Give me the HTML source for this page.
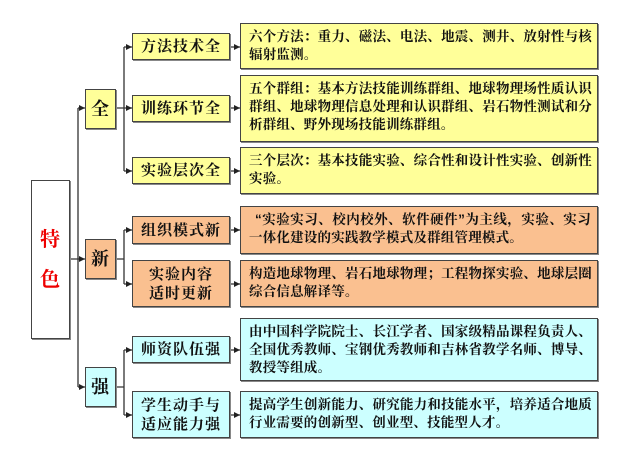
<!DOCTYPE html>
<html><head><meta charset="utf-8"><style>
body{margin:0;width:623px;height:463px;background:#fff;position:relative;overflow:hidden;font-family:"Liberation Sans","Noto Serif CJK SC","Noto Sans CJK SC",serif;font-weight:bold;color:#111}
.b{position:absolute;box-sizing:border-box;border:1px solid #444;box-shadow:1px 1px 0 #888}
.y{background:#ffff99}.o{background:#fac090}.c{background:#ccffff}
.m{display:flex;align-items:center;justify-content:center;text-align:center;font-size:15px;line-height:19px;letter-spacing:1px;white-space:nowrap}
.t{font-size:13.5px;line-height:18px;letter-spacing:0.2px;padding:4px 0 0 8px;white-space:nowrap}
.f{display:block;width:343px;text-align:justify;text-align-last:justify}
svg{position:absolute;left:0;top:0}
</style></head><body>
<svg width="623" height="463">
<g stroke="#333" stroke-width="1.3" fill="none">
<path d="M70 259H78M78 108V387M78 108H85M78 259H85M78 387H85"/>
<path d="M116 108H124M124 47V171M124 47H132M124 108H132M124 171H132"/>
<path d="M116 259H124M124 230V284M124 230H132M124 284H132"/>
<path d="M116 387H124M124 350V415M124 350H132M124 415H132"/>
<path d="M230 47H240M230 108H240M230 171H240M230 230H240M230 284H240M230 350H240M230 415H240"/>
</g>
<g fill="#222">
<path d="M85 108l-6-3v6zM85 259l-6-3v6zM85 387l-6-3v6z"/>
<path d="M132 47l-6-3v6zM132 108l-6-3v6zM132 171l-6-3v6zM132 230l-6-3v6zM132 284l-6-3v6zM132 350l-6-3v6zM132 415l-6-3v6z"/>
<path d="M240 47l-6-3v6zM240 108l-6-3v6zM240 171l-6-3v6zM240 230l-6-3v6zM240 284l-6-3v6zM240 350l-6-3v6zM240 415l-6-3v6z"/>
</g>
</svg>
<div class="b m" style="left:31px;top:180px;width:39px;height:159px;background:#fff;color:#e00;font-size:20px;line-height:40px;flex-direction:column">特<br>色</div>
<div class="b m y" style="left:85px;top:89px;width:31px;height:40px;font-size:18px">全</div>
<div class="b m o" style="left:85px;top:239px;width:31px;height:40px;font-size:18px">新</div>
<div class="b m c" style="left:85px;top:367px;width:31px;height:40px;font-size:18px">强</div>
<div class="b m y" style="left:132px;top:33px;width:98px;height:27px">方法技术全</div>
<div class="b m y" style="left:132px;top:95px;width:98px;height:27px">训练环节全</div>
<div class="b m y" style="left:132px;top:157px;width:98px;height:27px">实验层次全</div>
<div class="b m o" style="left:132px;top:216px;width:98px;height:28px">组织模式新</div>
<div class="b m o" style="left:132px;top:260px;width:98px;height:47px">实验内容<br>适时更新</div>
<div class="b m c" style="left:132px;top:336px;width:98px;height:27px">师资队伍强</div>
<div class="b m c" style="left:132px;top:391px;width:98px;height:47px">学生动手与<br>适应能力强</div>
<div class="b t y" style="left:240px;top:23px;width:358px;height:46px"><span class="f">六个方法：重力、磁法、电法、地震、测井、放射性与核</span>辐射监测。</div>
<div class="b t y" style="left:240px;top:75px;width:358px;height:67px"><span class="f">五个群组：基本方法技能训练群组、地球物理场性质认识</span><span class="f">群组、地球物理信息处理和认识群组、岩石物性测试和分</span>析群组、野外现场技能训练群组。</div>
<div class="b t y" style="left:240px;top:147px;width:358px;height:47px"><span class="f">三个层次：基本技能实验、综合性和设计性实验、创新性</span>实验。</div>
<div class="b t o" style="left:240px;top:206px;width:358px;height:48px"><span class="f" style="width:336px;padding-left:6px">“实验实习、校内校外、软件硬件”为主线，实验、实习</span>一体化建设的实践教学模式及群组管理模式。</div>
<div class="b t o" style="left:240px;top:260px;width:358px;height:47px"><span class="f">构造地球物理、岩石地球物理；工程物探实验、地球层圈</span>综合信息解译等。</div>
<div class="b t c" style="left:240px;top:318px;width:358px;height:63px"><span class="f">由中国科学院院士、长江学者、国家级精品课程负责人、</span><span class="f">全国优秀教师、宝钢优秀教师和吉林省教学名师、博导、</span>教授等组成。</div>
<div class="b t c" style="left:240px;top:391px;width:358px;height:47px"><span class="f">提高学生创新能力、研究能力和技能水平，培养适合地质</span>行业需要的创新型、创业型、技能型人才。</div>
</body></html>
